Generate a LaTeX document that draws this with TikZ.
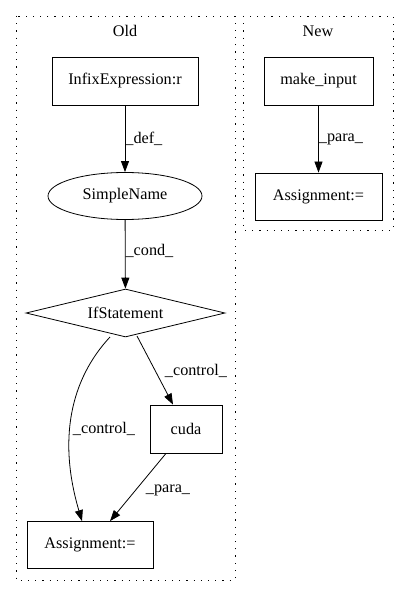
\documentclass[tikz,border=0pt]{standalone}
\usepackage{fontspec}
\setmainfont{Liberation Serif}
\usetikzlibrary{shapes.geometric,arrows.meta}
\begin{document}
\begin{tikzpicture}[x=1pt,y=-1pt,
  every node/.style={font=\fontsize{16.2}{18}\selectfont, inner sep=0pt},
  boxnode/.style={draw, line width=0.8pt, rectangle, minimum height=48pt},
  cluster/.style={draw, line width=0.9pt, dash pattern=on 1.2pt off 6pt},
  edge/.style={line width=0.8pt, -{Triangle[length=11pt,width=8pt]}},
  lbl/.style={font=\fontsize{16.2}{18}\selectfont}]
\useasboundingbox (0,0) rectangle (408,596);
% clusters
\draw[cluster] (16,16) rectangle (235,580);
\draw[cluster] (243,16) rectangle (393,230);
\node (oldlbl) at (125,31) {Old};
\node (newlbl) at (318,31) {New};
% Old nodes
\node[boxnode, minimum width=146pt] (infix) at (125,81) {InfixExpression:r};
\node[draw, line width=0.8pt, ellipse, minimum width=154pt, minimum height=47pt] (simple) at (125,196) {SimpleName};
\node[draw, line width=0.8pt, diamond, aspect=4.15, minimum width=199pt, minimum height=48pt] (ifst) at (125.5,313) {IfStatement};
\node[boxnode, minimum width=72pt] (cuda) at (186,429) {cuda};
\node[boxnode, minimum width=126pt, minimum height=47pt] (assignold) at (90,545) {Assignment:=};
% New nodes
\node[boxnode, minimum width=109pt] (make) at (318.5,81) {make\_input};
\node[boxnode, minimum width=127pt, minimum height=47pt] (assignnew) at (318.5,196.5) {Assignment:=};
% edges
\draw[edge] (infix) -- (simple) node[lbl, pos=0.5, right=0pt] {\_def\_};
\draw[edge] (simple) -- (ifst) node[lbl, pos=0.45, right=0pt] {\_cond\_};
\coordinate (c1) at (110,337);
\coordinate (c2) at (137,336);
\draw[edge] (c1) .. controls (70,380) and (58,440) .. (assignold.north -| 82,0);
\node[lbl] (ctl1) at (104,429) {\_control\_};
\draw[edge] (c2) -- (cuda.north -| 173,0);
\node[lbl] (ctl2) at (196,371) {\_control\_};
\draw[edge] (cuda.south -| 166,0) -- (assignold.north -| 110,0);
\node[lbl] (para1) at (168,490) {\_para\_};
\draw[edge] (make) -- (assignnew) node[lbl, pos=0.5, right=0pt] {\_para\_};
\end{tikzpicture}
\end{document}
